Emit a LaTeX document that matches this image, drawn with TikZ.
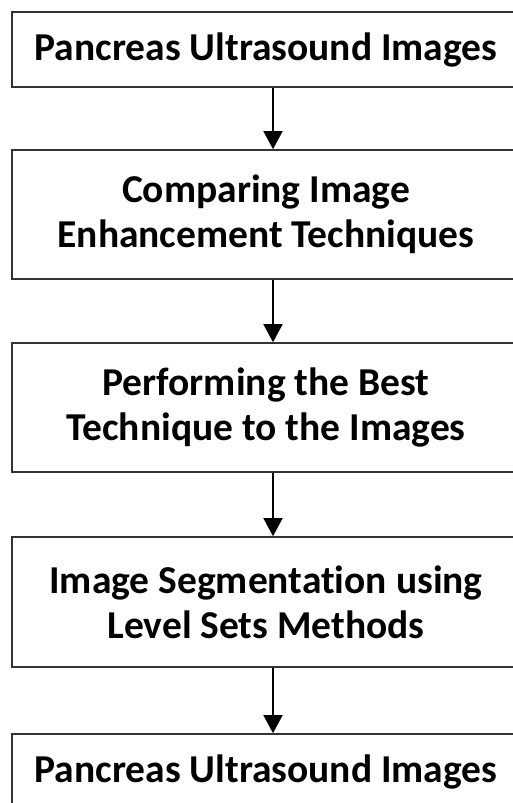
\documentclass[tikz,border=0pt]{standalone}
\usepackage{fontspec}
\setmainfont{Carlito}[Ligatures={NoCommon,NoContextual}]
\usepackage{tikz}
\usetikzlibrary{positioning,arrows.meta}

\begin{document}
\begin{tikzpicture}[x=1pt,y=1pt,
    box/.style={draw=black!80,line width=1.6pt,minimum width=508pt,
      align=center,inner sep=0pt,
      font=\fontsize{39.5}{45}\selectfont\bfseries},
    flow/.style={line width=1.6pt,-{Triangle[width=19pt,length=18pt]}}]
    \useasboundingbox (0,0) rectangle (513,-803);
    \node[box,minimum height=75pt] (imgin) at (266,-49.5) {Pancreas Ultrasound Images};
    \node[box,minimum height=129pt] (compare) at (266,-214.5) {Comparing Image\\Enhancement Techniques};
    \node[box,minimum height=129pt] (perform) at (266,-407.5) {Performing the Best\\Technique to the Images};
    \node[box,minimum height=130pt] (segment) at (266,-602) {Image Segmentat\kern0pt ion using\\Level Sets Methods};
    \node[box,minimum height=75pt] (imgout) at (266,-771.5) {Pancreas Ultrasound Images};
    \draw[flow] ([xshift=7pt]imgin.south) -- ([xshift=7pt]compare.north);
    \draw[flow] ([xshift=7pt]compare.south) -- ([xshift=7pt]perform.north);
    \draw[flow] ([xshift=7pt]perform.south) -- ([xshift=7pt]segment.north);
    \draw[flow] ([xshift=7pt]segment.south) -- ([xshift=7pt]imgout.north);
  \end{tikzpicture}
\end{document}
